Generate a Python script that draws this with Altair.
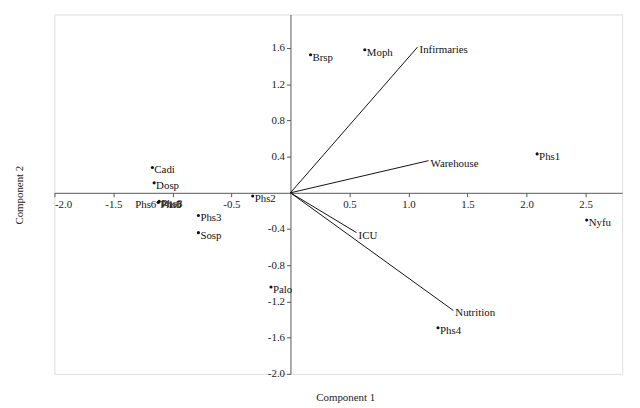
import altair as alt
import pandas as pd

# Observation scores
pt_names = ["Cadi", "Dosp", "Phs6", "Phs5", "Phs8", "Phs3", "Sosp", "Phs2", "Palo",
            "Brsp", "Moph", "Phs1", "Nyfu", "Phs4"]
pt_x = [-1.17, -1.155, -1.12, -1.12, -1.112, -0.78, -0.78, -0.32, -0.165,
        0.17, 0.63, 2.09, 2.51, 1.25]
pt_y = [0.28, 0.11, -0.105, -0.105, -0.095, -0.25, -0.44, -0.035, -1.04,
        1.525, 1.58, 0.43, -0.30, -1.49]
pt_side = ["right", "right", "left", "right", "right", "right", "right", "right", "right",
           "right", "right", "right", "right", "right"]

# Variable loadings (vectors from origin)
vec_names = ["Infirmaries", "Warehouse", "ICU", "Nutrition"]
vec_x = [1.077, 1.17, 0.56, 1.38]
vec_y = [1.61, 0.355, -0.44, -1.30]

x_ticks = [-2.0, -1.5, -1.0, -0.5, 0.5, 1.0, 1.5, 2.0, 2.5]
y_ticks = [-2.0, -1.6, -1.2, -0.8, -0.4, 0.4, 0.8, 1.2, 1.6]

x_dom = [-2.0, 2.81]
y_dom = [-2.0, 1.97]
W, H = 575, 364

pts = pd.DataFrame({"name": pt_names, "x": pt_x, "y": pt_y, "side": pt_side})
vecs = pd.DataFrame({"name": vec_names, "x": vec_x, "y": vec_y,
                     "x0": [0.0] * len(vec_names), "y0": [0.0] * len(vec_names)})

FONT = "Liberation Serif"
x_off = -(0 - y_dom[0]) / (y_dom[1] - y_dom[0]) * H
y_off = -(0 - x_dom[0]) / (x_dom[1] - x_dom[0]) * W

label_expr = "(datum.value < 0 ? '-' : '') + format(abs(datum.value), '.1f')"
axis_common = dict(grid=False, title=None, domainColor="#555", tickColor="#555",
                   labelColor="#222", labelFont=FONT, labelFontSize=11, tickSize=4,
                   labelPadding=2, labelExpr=label_expr)
x_axis = alt.Axis(values=x_ticks, offset=x_off, **axis_common)
y_axis = alt.Axis(values=y_ticks, offset=y_off, **axis_common)
x_scale = alt.Scale(domain=x_dom, nice=False, zero=False)
y_scale = alt.Scale(domain=y_dom, nice=False, zero=False)


def X(f="x"):
    return alt.X(f"{f}:Q", scale=x_scale, axis=x_axis)


def Y(f="y"):
    return alt.Y(f"{f}:Q", scale=y_scale, axis=y_axis)


rules = alt.Chart(vecs).mark_rule(color="#111", strokeWidth=1).encode(
    x=X("x0"), y=Y("y0"), x2="x:Q", y2="y:Q")
vec_labels = alt.Chart(vecs).mark_text(
    align="left", baseline="middle", dx=2, dy=3, font=FONT, fontSize=11, color="#111"
).encode(x=X(), y=Y(), text="name:N")

dots = alt.Chart(pts).mark_circle(size=10, color="#111", opacity=1).encode(x=X(), y=Y())
lab_r = alt.Chart(pts).transform_filter("datum.side == 'right'").mark_text(
    align="left", baseline="middle", dx=2, dy=3, font=FONT, fontSize=11, color="#111"
).encode(x=X(), y=Y(), text="name:N")
lab_l = alt.Chart(pts).transform_filter("datum.side == 'left'").mark_text(
    align="right", baseline="middle", dx=-2, dy=3, font=FONT, fontSize=11, color="#111"
).encode(x=X(), y=Y(), text="name:N")

dummy = pd.DataFrame({"a": [0]})
t1 = alt.Chart(dummy).mark_text(text="Component 1", font=FONT, fontSize=11,
                                color="#222", align="center", baseline="middle").encode(
    x=alt.value(295), y=alt.value(388))
t2 = alt.Chart(dummy).mark_text(text="Component 2", font=FONT, fontSize=11,
                                color="#222", align="center", baseline="middle",
                                angle=270).encode(
    x=alt.value(-35), y=alt.value(183))

chart = alt.layer(rules, vec_labels, dots, lab_r, lab_l, t1, t2).properties(
    width=W, height=H,
    autosize=alt.AutoSizeParams(type="none"),
    padding={"left": 47, "top": 4, "right": 10, "bottom": 30},
).configure_view(stroke=None).configure(background="white")

chart.save("out.html", embed_options={"renderer": "svg", "actions": False})
